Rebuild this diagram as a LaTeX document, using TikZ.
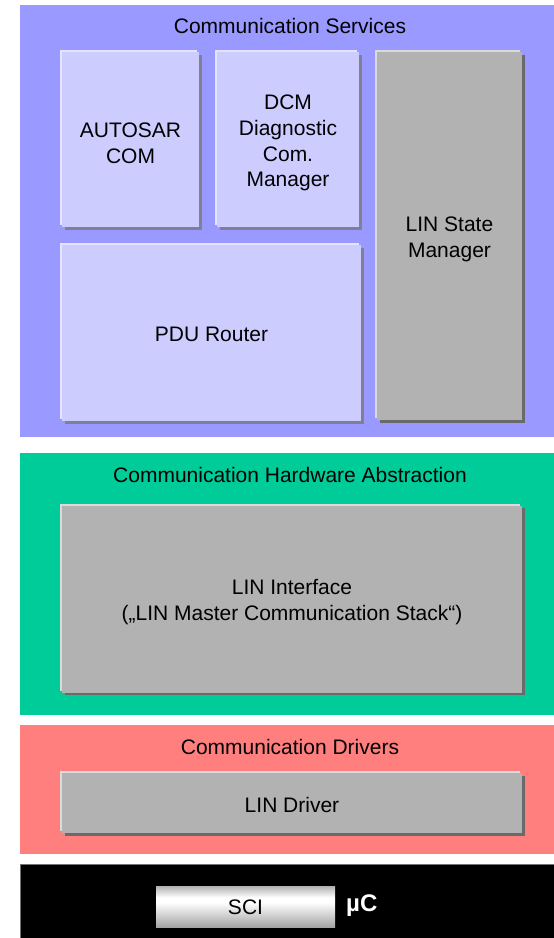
\documentclass[tikz,border=0pt]{standalone}
\usepackage{fontspec}
\setmainfont{Liberation Sans}
\usetikzlibrary{shadows}
\definecolor{svcblue}{HTML}{9999FF}
\definecolor{hwgreen}{HTML}{00CC99}
\definecolor{drvred}{HTML}{FF7F7F}
\definecolor{modlight}{HTML}{CCCCFF}
\definecolor{modlightedge}{HTML}{E4E4FF}
\definecolor{modlightshadow}{HTML}{7F7F99}
\definecolor{modgray}{HTML}{B2B2B2}
\definecolor{modgrayedge}{HTML}{DADADA}
\definecolor{modgrayshadow}{HTML}{6A6A6A}
\definecolor{sciedge}{HTML}{A4A4A4}
\definecolor{scitop}{HTML}{B0B0B0}
\pgfdeclareverticalshading{scishade}{100bp}{color(0bp)=(sciedge); color(25bp)=(sciedge); color(55bp)=(white); color(61bp)=(white); color(75bp)=(scitop); color(100bp)=(scitop)}
\newcommand{\modfont}{\fontsize{21}{25.7}\selectfont}
\tikzset{
  panel/.style={inner sep=0pt, outer sep=0pt, draw=none},
  paneltitle/.style={inner sep=0pt, font=\modfont, text=black},
  modbase/.style={inner sep=0pt, outer sep=0pt},
  modtext/.style={inner sep=0pt, align=center, font=\modfont, text=black},
  lightmod/.style={modbase, fill=modlight,
    general shadow={shadow xshift=3pt, shadow yshift=-2.5pt, fill=modlightshadow, opacity=1},
    general shadow={shadow xshift=-2.5pt, shadow yshift=2pt, fill=modlightedge, opacity=1}},
  graymod/.style={modbase, fill=modgray,
    general shadow={shadow xshift=3pt, shadow yshift=-2.5pt, fill=modgrayshadow, opacity=1},
    general shadow={shadow xshift=-2.5pt, shadow yshift=2pt, fill=modgrayedge, opacity=1}},
}
\begin{document}
\begin{tikzpicture}[x=1pt, y=-1pt]
\useasboundingbox[fill=white] (0,0) rectangle (554,938);
% layers
\node[panel, fill=svcblue, minimum width=540pt, minimum height=432pt] (services) at (290,221) {};
\node[panel, fill=hwgreen, minimum width=540pt, minimum height=262pt] (hwabs) at (290,584) {};
\node[panel, fill=drvred, minimum width=540pt, minimum height=129pt] (drivers) at (290,789.5) {};
\node[panel, fill=black, draw=black!55, line width=0.8pt, minimum width=540pt, minimum height=84pt] (mc) at (290,906) {};
% titles
\node[paneltitle] (servicestitle) at (290,25.5) {Communication Services};
\node[paneltitle] (hwabstitle) at (290,474.5) {Communication Hardware Abstraction};
\node[paneltitle] (driverstitle) at (290,746.5) {Communication Drivers};
% modules
\node[lightmod, minimum width=137pt, minimum height=175pt] (autosarcom) at (130.5,139.5) {};
\node[lightmod, minimum width=142pt, minimum height=175pt] (dcm) at (288,139.5) {};
\node[lightmod, minimum width=299pt, minimum height=176pt] (pdur) at (211.5,333) {};
\node[graymod, minimum width=145pt, minimum height=368pt] (linsm) at (449.5,236) {};
\node[graymod, minimum width=460pt, minimum height=187pt] (linif) at (292,599) {};
\node[graymod, minimum width=460pt, minimum height=60pt] (lindrv) at (292,803) {};
% module texts
\node[modtext] (autosarcomtext) at ([yshift=-3.5pt]autosarcom.center) {AUTOSAR\\COM};
\node[modtext] (dcmtext) at ([yshift=-3.5pt]dcm.center) {DCM\\Diagnostic\\Com.\\Manager};
\node[modtext] (pdurtext) at ([yshift=-1.5pt]pdur.center) {PDU Router};
\node[modtext] (linsmtext) at ([yshift=-3.5pt]linsm.center) {LIN State\\Manager};
\node[modtext] (liniftext) at ([yshift=-3pt]linif.center) {LIN Interface\\(„LIN Master Communication Stack“)};
\node[modtext] (lindrvtext) at ([yshift=-1.5pt]lindrv.center) {LIN Driver};
% microcontroller
\node[modbase, shading=scishade, minimum width=179pt, minimum height=41pt] (sci) at (245.5,906.5) {};
\node[modtext] (scitext) at ([yshift=-1pt]sci.center) {SCI};
\node[modtext, anchor=west, text=white, font=\fontsize{24}{28}\selectfont\bfseries] (muc) at (346,906) {µC};
\end{tikzpicture}
\end{document}
